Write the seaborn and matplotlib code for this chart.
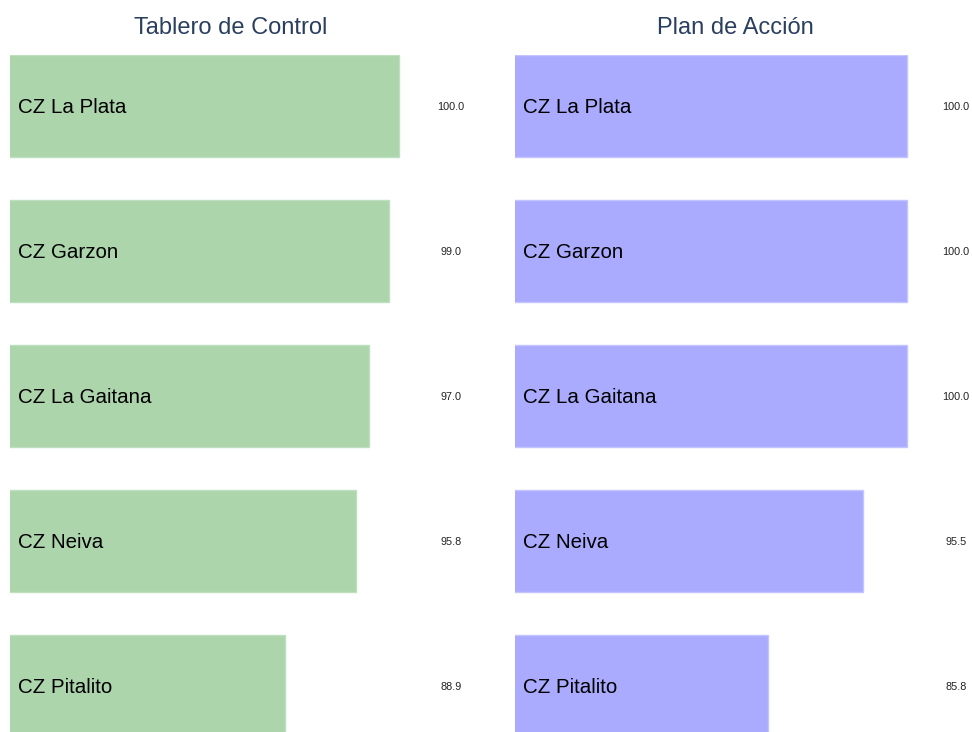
import matplotlib
matplotlib.use("Agg")
import pandas as pd
import matplotlib.pyplot as plt
import seaborn as sns

# ===================== DATA =====================
centros = ["CZ La Plata", "CZ Garzon", "CZ La Gaitana", "CZ Neiva", "CZ Pitalito"]
tablero_vals = [100.0, 99.0, 97.0, 95.8, 88.9]
centros_plan = ["CZ La Plata", "CZ Garzon", "CZ La Gaitana", "CZ Neiva", "CZ Pitalito"]
plan_vals = [100.0, 100.0, 100.0, 95.5, 85.8]

panels = [
    ("Tablero de Control", centros, tablero_vals, "#acd5ac", "#bfe0bf"),
    ("Plan de Acción", centros_plan, plan_vals, "#aaaaff", "#c4c4ff"),
]

# ===================== STYLE =====================
sns.set_style("white")
plt.rcParams["font.family"] = ["Liberation Sans", "DejaVu Sans"]

W, H = 972, 732
fig = plt.figure(figsize=(W / 100, H / 100), dpi=100)

# axes boxes in pixels: (left, right)
boxes = [(10, 451), (515, 956)]
top_px, bottom_px = 55, 732
dy = 2 / 145  # small downward nudge for text (in bar units)

for (title, labels, vals, fill, edge), (l, r) in zip(panels, boxes):
    ax = fig.add_axes([l / W, 1 - bottom_px / H, (r - l) / W, (bottom_px - top_px) / H])
    df = pd.DataFrame({"centro": labels, "valor": vals})
    sns.barplot(data=df, x="valor", y="centro", orient="h", color=fill,
                saturation=1, width=0.7, edgecolor=edge, linewidth=1, ax=ax)
    lo, hi = min(vals) * 0.7, max(vals) * 1.05
    ax.set_xlim(lo, hi)
    # bar centres at 106 + 145*i px
    ax.set_ylim(4 + (bottom_px - 686) / 145, -0.35)
    for i, (lab, v) in enumerate(zip(labels, vals)):
        ax.text(8 / (r - l), i + dy, lab, transform=ax.get_yaxis_transform(),
                va="center", ha="left", fontsize=14.8, color="black")
        ax.text(hi, i + dy / 2, f"{v:.1f}", va="center", ha="center", fontsize=7.8,
                color="#222222", clip_on=False)
    ax.set_axis_off()
    fig.text((l + r) / 2 / W, 1 - 28 / H, title, ha="center", va="center",
             fontsize=17, color="#2a3f5f")

fig.savefig("out.png", dpi=100)
